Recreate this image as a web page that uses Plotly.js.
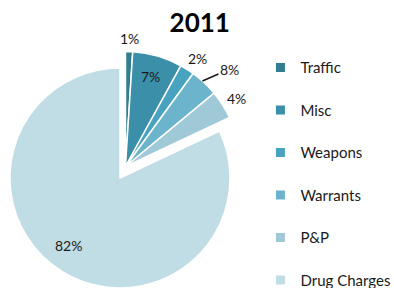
<!DOCTYPE html>
<html><head><meta charset="utf-8">
<script src="https://cdn.plot.ly/plotly-3.0.1.min.js"></script>
<style>html,body{margin:0;padding:0;background:#fff;}#c{width:394px;height:288px;}</style>
</head><body><div id="c"></div>
<script>
const categories = ["Traffic","Misc","Weapons","Warrants","P&P","Drug Charges"];
const values = [1,7,2,4,4,82];
const labelText = ["1%","7%","2%","8%","4%","82%"];
const colors = ["#327d8e","#3b8fa8","#47a3bf","#6cb4cb","#a0c9d8","#c0dce4"];
// which drawn layer each slice belongs to (the exploded slice sits on layer 1)
const layerOf = [0,0,0,0,0,1];
// label placement style: radius factor and angle shift (deg) per slice label
const labelRadius = [1.118,0.812,1.128,1.238,1.128,0.771];
const labelShift = [0.2,-0.7,1.4,3.7,1.0,5.4];
const leader = [false,false,false,true,false,false];

const W=394,H=288;
// layer geometry (pixels): centre x, centre y, radius
const layers = [{cx:125.5, cy:166.5, r:115}, {cx:120, cy:178, r:110}];
const traces = layers.map((L,k)=>({
  type:'pie', labels:categories, values:values,
  textinfo:'none', sort:false, direction:'clockwise', rotation:0,
  marker:{colors:colors.map((c,i)=>layerOf[i]===k?c:'rgba(0,0,0,0)'),
          line:{color:'#ffffff', width:layerOf.map(l=>l===k?1.5:0)}},
  showlegend:false, hoverinfo:'none',
  domain:{x:[(L.cx-L.r)/W,(L.cx+L.r)/W], y:[Math.max(0,(H-L.cy-L.r)/H),Math.min(1,(H-L.cy+L.r)/H)]}
}));
categories.forEach((c,i)=>{
  traces.push({type:'scatter', mode:'markers', x:[null], y:[null], name:c,
    legendgroup:'g'+i, marker:{symbol:'square', size:9, color:colors[i]}, showlegend:true});
});
const total = values.reduce((a,b)=>a+b,0);
const annotations = [];
let cum = 0;
values.forEach((v,i)=>{
  const mid = (cum + v/2)/total*2*Math.PI; cum += v;
  const L = layers[layerOf[i]];
  const a = mid + labelShift[i]*Math.PI/180;
  const tx = L.cx + labelRadius[i]*L.r*Math.sin(a), ty = L.cy - labelRadius[i]*L.r*Math.cos(a);
  const ann = {text:labelText[i], xref:'paper', yref:'paper', xanchor:'center', yanchor:'middle',
    font:{family:'Lato', size:14, color:'#1a1a1a'}};
  if(leader[i]){
    const b = mid - 1.2*Math.PI/180;
    const px = L.cx + L.r*Math.sin(b), py = L.cy - L.r*Math.cos(b);
    Object.assign(ann, {x:px/W, y:1-py/H, showarrow:true, arrowhead:0, arrowwidth:1.5, arrowcolor:'#1a1a1a',
      ax:tx-px, ay:ty-py, standoff:0});
  } else {
    Object.assign(ann, {x:tx/W, y:1-ty/H, showarrow:false});
  }
  annotations.push(ann);
});
const layout = {
  width:W, height:H, margin:{l:0,r:0,t:0,b:0,autoexpand:false},
  paper_bgcolor:'#fff', plot_bgcolor:'#fff',
  title:{text:'<b>2011</b>', font:{family:'Lato', size:26, color:'#000'}, x:0.507, xanchor:'center', y:0.951, yanchor:'top'},
  xaxis:{visible:false}, yaxis:{visible:false},
  annotations:annotations,
  showlegend:true,
  legend:{x:0.661, xanchor:'left', y:0.822, yanchor:'top', tracegroupgap:20,
    font:{family:'Lato', size:15, color:'#1a1a1a'}, bgcolor:'rgba(0,0,0,0)'}
};
Plotly.newPlot('c', traces, layout, {staticPlot:true, displayModeBar:false});
</script></body></html>
